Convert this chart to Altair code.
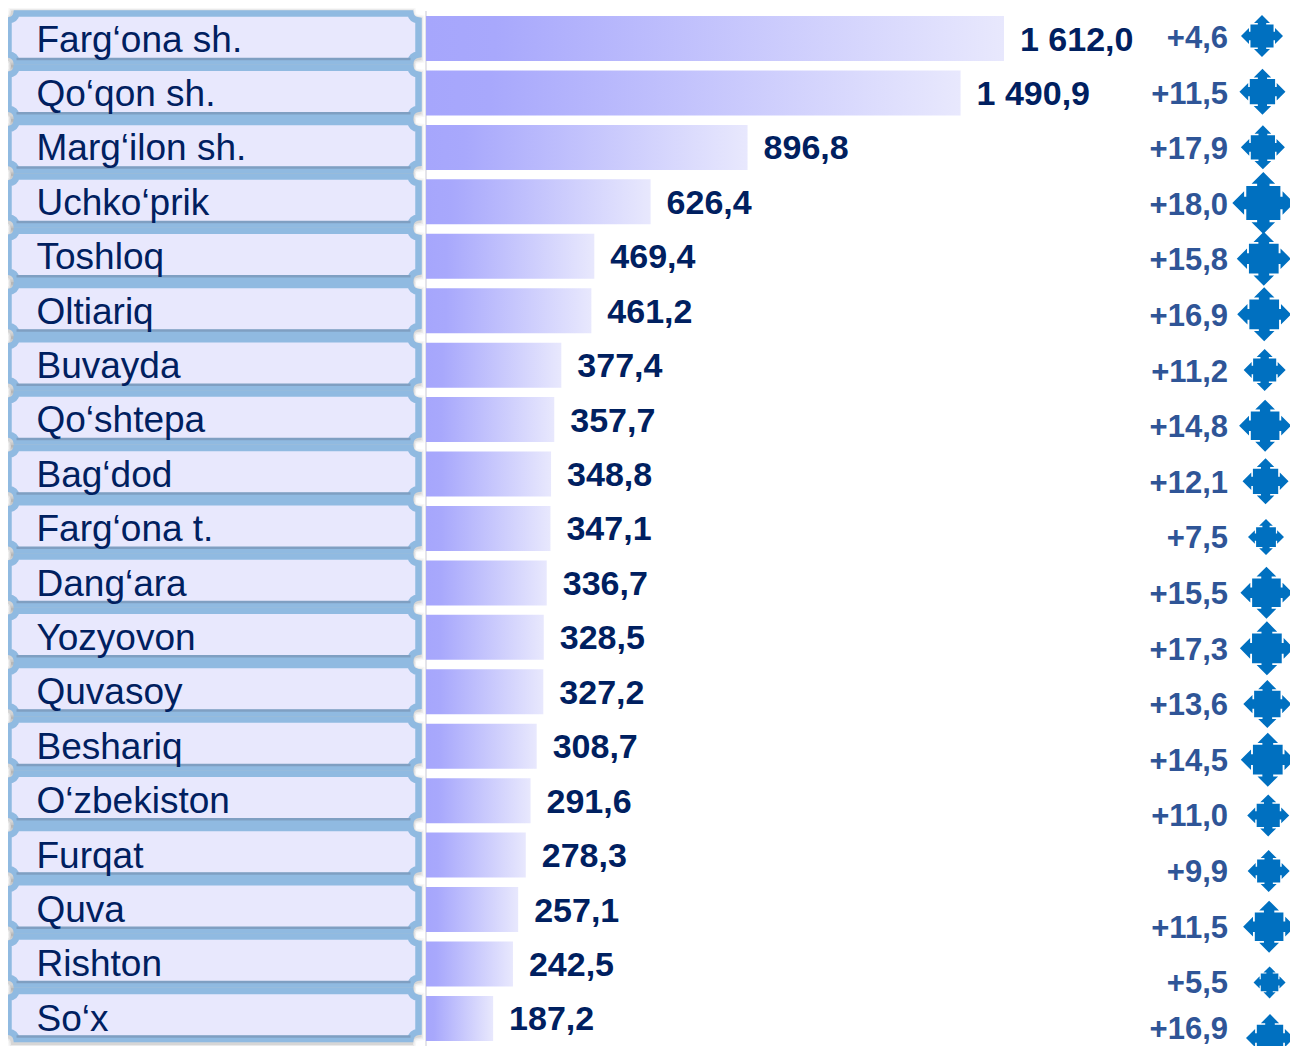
import altair as alt
import pandas as pd

names = ["Farg‘ona sh.", "Qo‘qon sh.", "Marg‘ilon sh.", "Uchko‘prik", "Toshloq", "Oltiariq",
         "Buvayda", "Qo‘shtepa", "Bag‘dod", "Farg‘ona t.", "Dang‘ara", "Yozyovon", "Quvasoy",
         "Beshariq", "O‘zbekiston", "Furqat", "Quva", "Rishton", "So‘x"]
values = [1612.0, 1490.9, 896.8, 626.4, 469.4, 461.2, 377.4, 357.7, 348.8, 347.1, 336.7,
          328.5, 327.2, 308.7, 291.6, 278.3, 257.1, 242.5, 187.2]
growth = [4.6, 11.5, 17.9, 18.0, 15.8, 16.9, 11.2, 14.8, 12.1, 7.5, 15.5, 17.3, 13.6,
          14.5, 11.0, 9.9, 11.5, 5.5, 16.9]
arrow_widths = [42, 46, 44, 62, 54, 54, 42, 52, 46, 36, 52, 54, 48, 54, 42, 42, 52, 32, 48]


def fmt(v):
    return f"{v:,.1f}".replace(",", " ").replace(".", ",")


df = pd.DataFrame({
    "name": names,
    "value": values,
    "row": range(len(names)),
    "value_label": [fmt(v) for v in values],
    "growth_label": ["+" + fmt(g) for g in growth],
    "arrow_area": [w ** 2 for w in arrow_widths],
})

W, H = 1282, 1038
PX = 578 / 1612
x_scale = alt.Scale(domain=[-418 / PX, (W - 418) / PX], range=[0, W], nice=False, zero=False, padding=0)
ARROW_DRIFT = 8 / 18
ARROW_X0 = 1254
arrow_x_scale = alt.Scale(domain=[-ARROW_X0 / ARROW_DRIFT, (W - ARROW_X0) / ARROW_DRIFT], range=[0, W],
                          nice=False, zero=False, padding=0)


def row_scale(first, pitch):
    f = first - 8
    return alt.Scale(domain=[-f / pitch, (H - f) / pitch], range=[0, H], nice=False, zero=False, padding=0)


def Y(first, pitch):
    return alt.Y("row:Q", scale=row_scale(first, pitch), axis=None)


# Growth column: even rows, with the last one pulled up so its text stays inside the picture
g_first, g_pitch, g_last = 39 - 8, 55.6, 1030 - 8
growth_y = alt.Y("row:Q", axis=None, scale=alt.Scale(
    domain=[-g_first / g_pitch, 17, 18], range=[0, g_first + 17 * g_pitch, g_last],
    nice=False, zero=False, padding=0))

BOX = ("M-197,-24 L197,-24 Q198,-18 205,-17 L205,17 Q198,18 197,24 L-197,24 "
       "Q-198,18 -205,17 L-205,-17 Q-198,-18 -197,-24 Z")
EDGE = "M-197,21.5 L197,21.5"
ARROW = ("M0,-1 L0.38,-0.62 L0.2,-0.62 L0.2,-0.55 L0.55,-0.55 L0.55,-0.2 L0.62,-0.2 L0.62,-0.38 "
         "L1,0 L0.62,0.38 L0.62,0.2 L0.55,0.2 L0.55,0.55 L0.2,0.55 L0.2,0.62 L0.38,0.62 "
         "L0,1 L-0.38,0.62 L-0.2,0.62 L-0.2,0.55 L-0.55,0.55 L-0.55,0.2 L-0.62,0.2 L-0.62,0.38 "
         "L-1,0 L-0.62,-0.38 L-0.62,-0.2 L-0.55,-0.2 L-0.55,-0.55 L-0.2,-0.55 L-0.2,-0.62 L-0.38,-0.62 Z")

base = alt.Chart(df)
BOX_X = alt.value(205.5)
box_y = Y(37.5, 54.3)
shadow_y = Y(39, 54.3)


def shadow(width, opacity):
    return base.mark_point(shape=BOX, size=4, filled=True, fill="#5a5a5a", fillOpacity=0.35,
                           stroke="#5a5a5a", strokeWidth=width, strokeOpacity=opacity,
                           opacity=1).encode(x=alt.value(204), y=shadow_y)


shadows = [shadow(w, o) for w, o in [(15, 0.05), (12, 0.08), (9, 0.14)]]

boxes = base.mark_point(shape=BOX, size=4, filled=True, fill="#e8e8fd", fillOpacity=1, stroke="#90bae1",
                        strokeWidth=6.5, strokeOpacity=1, opacity=1).encode(x=BOX_X, y=box_y)
edges = base.mark_point(shape=EDGE, size=4, filled=False, stroke="#7f9fc2", strokeWidth=2.5,
                        opacity=1).encode(x=BOX_X, y=box_y)
names_txt = base.mark_text(align="left", baseline="middle", font="Liberation Sans", fontSize=37,
                           color="#002060").encode(x=alt.value(28.5), y=Y(40.5, 54.4), text="name:N")

axis_rule = alt.Chart(pd.DataFrame({"zero": [0]})).mark_rule(color="#e4e4ea", strokeWidth=2).encode(
    x=alt.X("zero:Q", scale=x_scale, axis=None), y=alt.value(3), y2=alt.value(1038))

bars = base.mark_bar(
    size=45, orient="horizontal",
    fill=alt.Gradient(gradient="linear", x1=0, x2=1, y1=0, y2=0, stops=[
        alt.GradientStop(offset=0, color="#a6a6fc"),
        alt.GradientStop(offset=0.12, color="#a8a8fc"),
        alt.GradientStop(offset=1, color="#e8e8fd"),
    ]),
).encode(x=alt.X("value:Q", scale=x_scale, axis=None, stack=None), y=Y(38.5, 54.44))

value_txt = base.mark_text(align="left", baseline="middle", dx=16, font="Liberation Sans", fontSize=34,
                           fontWeight="bold", color="#002060").encode(
    x=alt.X("value:Q", scale=x_scale, axis=None), y=Y(40.5, 54.44), text="value_label:N")

growth_txt = base.mark_text(align="right", baseline="middle", font="Liberation Sans", fontSize=31,
                            fontWeight="bold", color="#2f5597").encode(
    x=alt.value(1220), y=growth_y, text="growth_label:N")

arrows = base.mark_point(shape=ARROW, filled=True, fill="#0070c0", fillOpacity=1, opacity=1, strokeWidth=0).encode(
    x=alt.X("row:Q", scale=arrow_x_scale, axis=None), y=Y(36, 55.67),
    size=alt.Size("arrow_area:Q", scale=None, legend=None))

chart = alt.layer(*shadows, boxes, edges, names_txt, axis_rule, bars, value_txt, growth_txt, arrows).resolve_scale(
    y="independent", x="independent"
).properties(
    width=W, height=H, padding=0, autosize=alt.AutoSizeParams(type="none"), background="#ffffff"
).configure_view(stroke=None)

chart.save("out.html", embed_options={"renderer": "svg", "actions": False})
